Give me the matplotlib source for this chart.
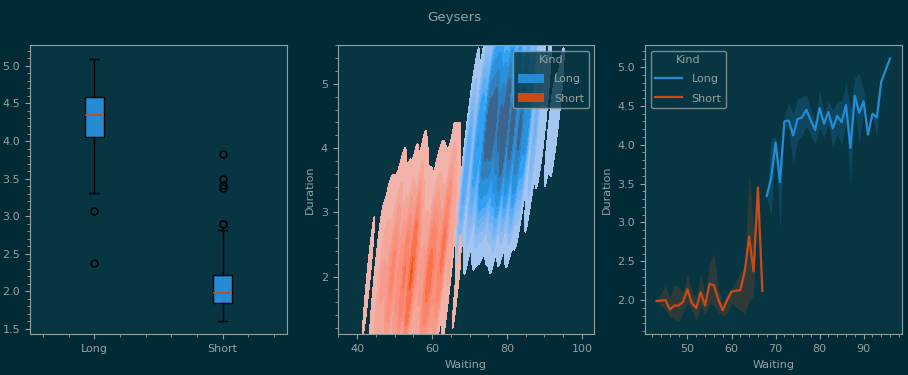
import numpy as np
import matplotlib
matplotlib.use("Agg")
import matplotlib.pyplot as plt
import matplotlib.colors as mcolors
from matplotlib.patches import Patch
from matplotlib.lines import Line2D
from matplotlib.ticker import MultipleLocator, FormatStrFormatter
from seaborn.external import husl

# ---------------- colours ----------------
BG = "#002b36"
AX_BG = "#073642"
FG = "#93a1a1"
C_LONG = "#268bd2"
C_SHORT = "#cb4b16"

# ---------------- data ----------------
kinds = ["Long", "Short"]

# box plot statistics (Duration by Kind)
box_whislo = [3.31, 1.60]
box_q1 = [4.06, 1.84]
box_med = [4.35, 1.98]
box_q3 = [4.58, 2.22]
box_whishi = [5.09, 2.81]
box_fliers = [[3.07, 2.38], [2.89, 2.90, 3.37, 3.42, 3.50, 3.83]]

# mean Duration by Waiting, with CI band
short_wait = [43, 45, 46, 47, 48, 49, 50, 51, 52, 53, 54, 55, 56, 57, 58, 59,
              60, 61, 62, 63, 64, 65, 66, 67]
short_mean = [1.99, 2.00, 1.88, 1.93, 1.93, 1.98, 2.14, 1.96, 1.90, 2.10, 1.93,
              2.21, 2.19, 2.01, 1.87, 2.00, 2.11, 2.12, 2.13, 2.37, 2.82, 2.37,
              3.45, 2.12]
short_lo = [1.99, 1.87, 1.79, 1.75, 1.73, 1.85, 1.96, 1.87, 1.73, 1.92, 1.80,
            1.96, 1.94, 1.84, 1.80, 1.83, 1.96, 1.91, 1.87, 1.83, 1.99, 2.06,
            3.39, 2.12]
short_hi = [1.99, 2.19, 2.03, 2.20, 2.17, 2.09, 2.34, 2.09, 2.05, 2.32, 2.05,
            2.47, 2.60, 2.15, 1.96, 2.09, 2.15, 2.25, 2.35, 2.45, 3.63, 2.90,
            3.50, 2.12]
short_count = [2, 2, 3, 3, 3, 4, 4, 5, 4, 5, 6, 5, 4, 4, 4, 5, 5, 4, 4, 3, 3,
               3, 2, 2]

long_wait = [68, 69, 70, 71, 72, 73, 74, 75, 76, 77, 78, 79, 80, 81, 82, 83,
             84, 85, 86, 87, 88, 89, 90, 91, 92, 93, 94, 96]
long_mean = [3.34, 3.57, 4.03, 3.52, 4.30, 4.31, 4.12, 4.33, 4.35, 4.45, 4.31,
             4.19, 4.47, 4.27, 4.42, 4.21, 4.37, 4.29, 4.51, 3.96, 4.63, 4.41,
             4.56, 4.13, 4.40, 4.35, 4.81, 5.11]
long_lo = [3.34, 3.07, 3.98, 2.92, 4.22, 4.20, 3.75, 4.05, 4.12, 4.24, 4.12,
           4.01, 4.22, 4.10, 4.27, 3.97, 4.14, 3.99, 4.29, 3.52, 4.46, 3.99,
           4.46, 4.10, 4.38, 4.09, 4.81, 5.11]
long_hi = [3.34, 4.08, 4.10, 3.80, 4.38, 4.54, 4.39, 4.59, 4.61, 4.63, 4.46,
           4.31, 4.71, 4.42, 4.56, 4.44, 4.56, 4.56, 4.80, 4.46, 4.86, 4.91,
           4.71, 4.16, 4.42, 4.37, 4.81, 5.11]
long_count = [2, 3, 3, 3, 3, 6, 7, 10, 11, 10, 13, 11, 10, 11, 9, 10, 8, 6, 5,
              2, 3, 1, 2, 1, 1, 1, 1, 1]

# KDE support (Waiting range, Duration range) per kind
kde_support = {"Long": ((66.3, 103.3), (1.3, 5.6)),
               "Short": ((34.8, 67.5), (1.1, 4.4))}

# ---------------- style ----------------
plt.rcParams.update({
    "font.family": ["DejaVu Sans"],
    "font.size": 8,
    "figure.facecolor": BG,
    "axes.facecolor": AX_BG,
    "axes.edgecolor": FG,
    "axes.labelcolor": FG,
    "text.color": FG,
    "xtick.color": FG,
    "ytick.color": FG,
    "xtick.direction": "out",
    "ytick.direction": "out",
    "xtick.major.size": 3.5,
    "ytick.major.size": 3.5,
    "xtick.minor.size": 2,
    "ytick.minor.size": 2,
    "xtick.minor.visible": True,
    "ytick.minor.visible": True,
    "legend.facecolor": AX_BG,
    "legend.edgecolor": FG,
    "legend.framealpha": 0.8,
})

fig = plt.figure(figsize=(9.08, 3.75), dpi=100)
H = 375.0
W = 908.0
bottom = 1 - 334.3 / H
height = 289.0 / H
ax1 = fig.add_axes([30 / W, bottom, 256.7 / W, height])
ax2 = fig.add_axes([337.7 / W, bottom, 256.6 / W, height])
ax3 = fig.add_axes([645 / W, bottom, 256.7 / W, height])

fig.suptitle("Geysers", fontsize=9.6, color=FG, y=0.972)

# ---------------- panel 1: box plot ----------------
stats = []
for i, k in enumerate(kinds):
    stats.append(dict(label=k, whislo=box_whislo[i], q1=box_q1[i], med=box_med[i],
                      q3=box_q3[i], whishi=box_whishi[i], fliers=box_fliers[i]))
ax1.bxp(stats, positions=[1, 2], widths=0.15, patch_artist=True,
        boxprops=dict(facecolor=C_LONG, edgecolor="black", linewidth=1),
        medianprops=dict(color=C_SHORT, linewidth=1.2),
        whiskerprops=dict(color="black", linewidth=1),
        capprops=dict(color="black", linewidth=1),
        flierprops=dict(marker="o", markerfacecolor="none", markeredgecolor="black",
                        markersize=5, markeredgewidth=1))
ax1.set_xlim(0.5, 2.5)
ax1.yaxis.set_major_locator(MultipleLocator(0.5))
ax1.yaxis.set_minor_locator(MultipleLocator(0.1))
ax1.xaxis.set_minor_locator(MultipleLocator(0.2))
ax1.yaxis.set_major_formatter(FormatStrFormatter("%.1f"))
ax1.set_ylim(1.425, 5.275)


# ---------------- panel 2: KDE ----------------
def cmap_from_color(color):
    r, g, b, _ = mcolors.to_rgba(color)
    h, s, _ = husl.rgb_to_husl(r, g, b)
    xx = np.linspace(-1, 1, int(1.15 * 256))[:256]
    ramp = np.zeros((256, 3))
    ramp[:, 0] = h
    ramp[:, 1] = s * np.cos(xx)
    ramp[:, 2] = np.linspace(35, 80, 256)
    cols = np.clip([husl.husl_to_rgb(*hsl) for hsl in ramp], 0, 1)
    return mcolors.ListedColormap(cols[::-1])


SLOPE = 0.6
SIG_U = 0.55
SIG_V = {"Long": 0.95, "Short": 1.1}
total = float(sum(short_count) + sum(long_count))


def density(w, d, n, support, sig_v):
    xs = np.linspace(*support[0], 200)
    ys = np.linspace(*support[1], 200)
    X, Y = np.meshgrid(xs, ys)
    dens = np.zeros_like(X)
    for wi, di, ni in zip(w, d, n):
        v = Y - di
        u = (X - wi) - v / SLOPE
        dens += ni * np.exp(-0.5 * (u / SIG_U) ** 2 - 0.5 * (v / sig_v) ** 2)
    dens /= (2 * np.pi * SIG_U * sig_v * total)
    return xs, ys, dens


def quantile_to_level(data, quantile):
    values = np.ravel(data)
    sv = np.sort(values)[::-1]
    normalized = np.cumsum(sv) / values.sum()
    idx = np.searchsorted(normalized, 1 - np.asarray(quantile))
    return np.take(sv, idx, mode="clip")


dens = {
    "Long": density(long_wait, long_mean, long_count, kde_support["Long"], SIG_V["Long"]),
    "Short": density(short_wait, short_mean, short_count, kde_support["Short"], SIG_V["Short"]),
}
levels = quantile_to_level([dens[k][2] for k in kinds], np.linspace(0.05, 1, 10))
colors = {"Long": C_LONG, "Short": C_SHORT}
for k in kinds:
    xs, ys, dd = dens[k]
    ax2.contourf(xs, ys, dd, levels=levels, cmap=cmap_from_color(colors[k]))
ax2.set_xlim(34.8, 103.3)
ax2.set_ylim(1.1, 5.6)
ax2.xaxis.set_major_locator(MultipleLocator(20))
ax2.xaxis.set_minor_locator(MultipleLocator(5))
ax2.yaxis.set_major_locator(MultipleLocator(1))
ax2.yaxis.set_minor_locator(MultipleLocator(0.2))
ax2.set_xlabel("Waiting")
ax2.set_ylabel("Duration")

leg_kw = dict(title="Kind", title_fontsize=8, handlelength=2.4, handleheight=0.85,
              labelspacing=0.8, handletextpad=0.9)
ax2.legend(handles=[Patch(facecolor=colors[k], label=k) for k in kinds],
           loc="upper right", **leg_kw)

# ---------------- panel 3: line plot ----------------
for k, w, m, lo, hi in [("Long", long_wait, long_mean, long_lo, long_hi),
                        ("Short", short_wait, short_mean, short_lo, short_hi)]:
    ax3.fill_between(w, lo, hi, color=colors[k], alpha=0.2, linewidth=0)
    ax3.plot(w, m, color=colors[k], linewidth=1.6, label=k)
ax3.xaxis.set_major_locator(MultipleLocator(10))
ax3.xaxis.set_minor_locator(MultipleLocator(2))
ax3.yaxis.set_major_locator(MultipleLocator(0.5))
ax3.yaxis.set_minor_locator(MultipleLocator(0.1))
ax3.set_xlabel("Waiting")
ax3.set_ylabel("Duration")
ax3.legend(handles=[Line2D([], [], color=colors[k], linewidth=1.6, label=k) for k in kinds],
           loc="upper left", **leg_kw)

for ax in (ax1, ax2, ax3):
    for s in ax.spines.values():
        s.set_color(FG)
        s.set_linewidth(0.8)

fig.savefig("out.png", dpi=100, facecolor=BG)
